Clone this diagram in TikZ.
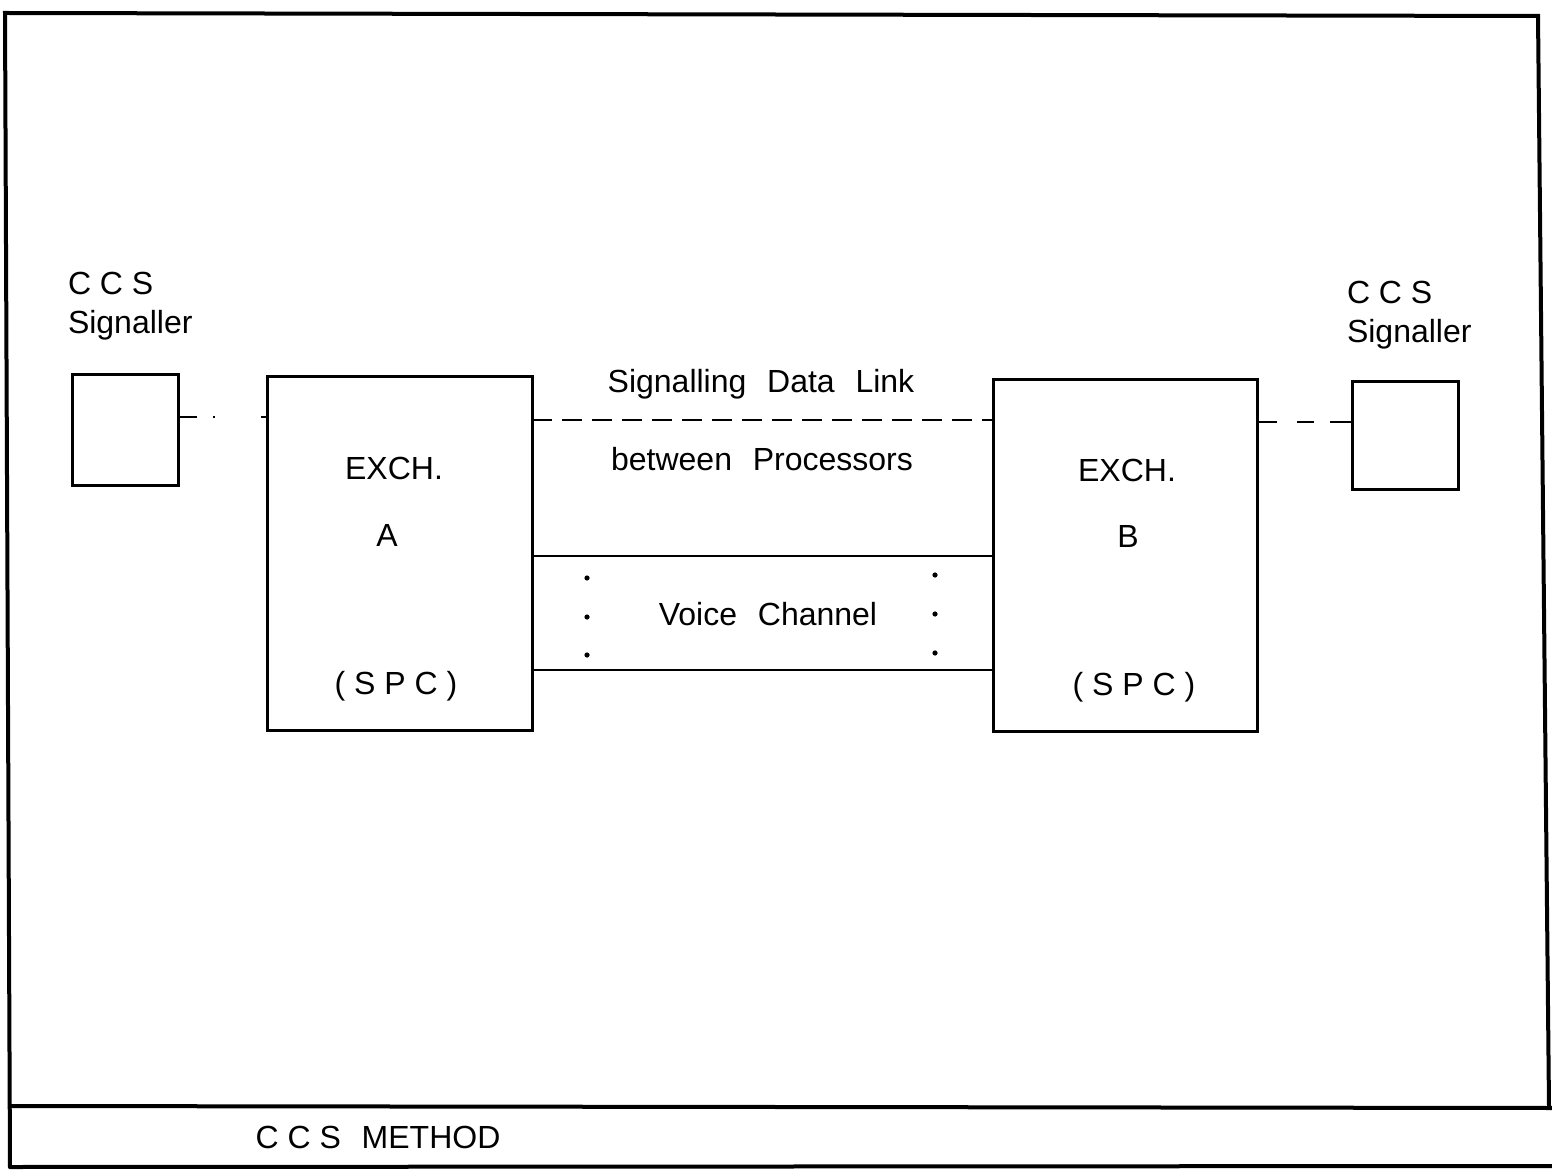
\documentclass[tikz,border=0pt]{standalone}
\usepackage{fontspec}
\setmainfont{Liberation Sans}
\newcommand{\wsp}{\hspace{0.65em}}
\begin{document}
\begin{tikzpicture}[x=0.5pt,y=-0.5pt,
  txt/.style={font=\fontsize{16}{19}\selectfont, inner sep=0pt, outer sep=0pt},
  box/.style={draw, line width=1.5pt, rectangle, inner sep=0pt, outer sep=0pt},
  frameline/.style={line width=2pt, line cap=round},
  chan/.style={line width=1.3pt},
  lnk/.style={line width=1.3pt},
  dot/.style={circle, fill, inner sep=0pt, minimum size=2.6pt}]
\useasboundingbox (0,0) rectangle (1552,1170);

% outer frame and caption strip
\draw[frameline] (10,1167) -- (5,13) -- (1538,16) -- (1549,1107);
\draw[frameline] (10,1106) -- (1552,1108);
\draw[frameline] (10,1167) -- (1552,1166);
\node[txt, anchor=base] (title) at (378,1148) {C C S\wsp METHOD};

% signallers and exchanges
\node[box, minimum width=53pt, minimum height=55.5pt] (sigL) at (125,430.5) {};
\node[box, minimum width=53pt, minimum height=54pt] (sigR) at (1405,436) {};
\node[box, minimum width=132.5pt, minimum height=176.5pt] (exA) at (399.5,553.5) {};
\node[box, minimum width=132pt, minimum height=175.5pt] (exB) at (1125,555.5) {};

% signaller labels
\node[txt, anchor=base west] (ccsL) at (68,295) {C C S};
\node[txt, anchor=base west] (sigLt) at (68,334) {Signaller};
\node[txt, anchor=base west] (ccsR) at (1347,304) {C C S};
\node[txt, anchor=base west] (sigRt) at (1347,343) {Signaller};

% exchange labels
\node[txt, anchor=base] (exAt) at (394,480) {EXCH.};
\node[txt, anchor=base] (exAn) at (387,546) {A};
\node[txt, anchor=base] (exAs) at (396,694) {( S P C )};
\node[txt, anchor=base] (exBt) at (1127,482) {EXCH.};
\node[txt, anchor=base] (exBn) at (1128,548) {B};
\node[txt, anchor=base] (exBs) at (1134,695) {( S P C )};

% link labels
\node[txt, anchor=base] (sdl) at (761,393) {Signalling\wsp Data\wsp Link};
\node[txt, anchor=base] (bp) at (762,471) {between\wsp Processors};
\node[txt, anchor=base] (vc) at (768,625) {Voice\wsp Channel};

% levels of the connectors
\coordinate (yL) at (0,417);
\coordinate (yS) at (0,420);
\coordinate (yR) at (0,422);
\coordinate (yV1) at (0,556);
\coordinate (yV2) at (0,670);

% signaller to exchange links
\draw[lnk, dash pattern=on 9.5pt off 8pt on 1.2pt off 23pt on 3pt] (sigL.east |- yL) -- (exA.west |- yL);
\draw[lnk, dash pattern=on 10pt off 10pt on 8.5pt off 8pt on 14pt] (exB.east |- yR) -- (sigR.west |- yR);

% signalling data link between processors
\draw[lnk, dash pattern=on 10pt off 5pt] (exA.east |- yS) -- (exB.west |- yS);

% voice channel
\draw[chan] (exA.east |- yV1) -- (exB.west |- yV1);
\draw[chan] (exA.east |- yV2) -- (exB.west |- yV2);
\foreach \yy in {578,617,655} \node[dot] at (587,\yy) {};
\foreach \yy in {575,614,653} \node[dot] at (935,\yy) {};
\end{tikzpicture}
\end{document}
